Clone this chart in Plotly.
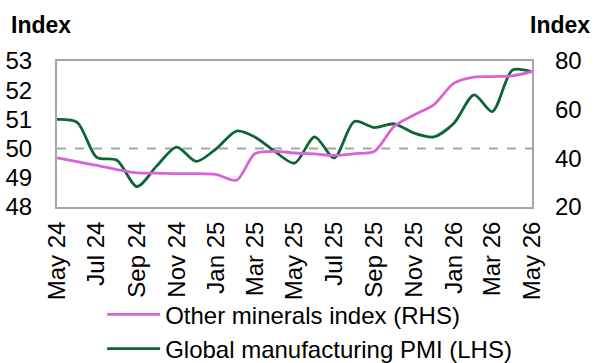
import plotly.graph_objects as go

months = ["2024-05-01","2024-06-01","2024-07-01","2024-08-01","2024-09-01","2024-10-01","2024-11-01","2024-12-01",
          "2025-01-01","2025-02-01","2025-03-01","2025-04-01","2025-05-01","2025-06-01","2025-07-01","2025-08-01",
          "2025-09-01","2025-10-01","2025-11-01","2025-12-01","2026-01-01","2026-02-01","2026-03-01","2026-04-01","2026-05-01"]
pmi = [51.0, 50.9, 49.7, 49.6, 48.7, 49.4, 50.05, 49.56, 50.0, 50.6, 50.4, 49.9, 49.5,
       50.4, 49.68, 50.93, 50.72, 50.85, 50.53, 50.4, 50.87, 51.84, 51.27, 52.69, 52.63]
minerals = [40.2, 38.6, 37.1, 35.4, 34.0, 33.9, 33.7, 33.7, 33.3, 31.0, 41.9, 42.9, 42.2,
            41.8, 41.2, 41.9, 42.9, 53.1, 57.9, 62.0, 70.9, 73.4, 73.6, 73.9, 75.7]
tick_vals = ["2024-05-01","2024-07-01","2024-09-01","2024-11-01","2025-01-01","2025-03-01","2025-05-01",
             "2025-07-01","2025-09-01","2025-11-01","2026-01-01","2026-03-01","2026-05-01"]
tick_text = ["May 24","Jul 24","Sep 24","Nov 24","Jan 25","Mar 25","May 25","Jul 25","Sep 25","Nov 25","Jan 26","Mar 26","May 26"]

font = "Liberation Sans, Arial, sans-serif"
FS = 24
fig = go.Figure()
fig.add_trace(go.Scatter(x=months, y=minerals, yaxis="y2", mode="lines", name="Other minerals index (RHS)",
                         line=dict(color="#DA62D8", width=2.8, shape="spline", smoothing=0.8)))
fig.add_trace(go.Scatter(x=months, y=pmi, mode="lines", name="Global manufacturing PMI (LHS)",
                         line=dict(color="#0B6636", width=2.8, shape="spline", smoothing=0.8)))
fig.add_shape(type="line", xref="paper", x0=0, x1=1, yref="y", y0=50, y1=50,
              line=dict(color="#A6A6A6", width=2, dash="dash"), layer="below")
fig.update_layout(
    width=596, height=363, margin=dict(l=57, r=64, t=61, b=156, autoexpand=False),
    paper_bgcolor="white", plot_bgcolor="white",
    font=dict(family=font, size=FS, color="black"),
    showlegend=True,
    legend=dict(x=0.095, y=-0.584, xanchor="left", yanchor="top", orientation="v",
                font=dict(size=FS), itemwidth=53, tracegroupgap=0, bgcolor="rgba(0,0,0,0)"),
    xaxis=dict(range=["2024-05-01","2026-05-01"], tickvals=tick_vals, ticktext=tick_text, tickangle=-90,
               showgrid=False, showline=True, linecolor="#A6A6A6", linewidth=2, mirror=True, ticks="",
               tickfont=dict(size=FS), ticklabelstandoff=3),
    yaxis=dict(range=[48,53], dtick=1, showgrid=False, showline=True, linecolor="#A6A6A6", linewidth=2,
               mirror=True, ticks="", zeroline=False, tickfont=dict(size=FS), ticklabelstandoff=18),
    yaxis2=dict(range=[20,80], dtick=20, overlaying="y", side="right", showgrid=False, showline=False,
                ticks="", zeroline=False, tickfont=dict(size=FS), ticklabelstandoff=22),
    annotations=[
        dict(text="<b>Index</b>", xref="paper", yref="paper", x=-0.101, y=1.246, xanchor="left", yanchor="middle",
             showarrow=False, font=dict(size=23)),
        dict(text="<b>Index</b>", xref="paper", yref="paper", x=1.126, y=1.246, xanchor="right", yanchor="middle",
             showarrow=False, font=dict(size=23)),
    ],
)
fig.write_html("out.html", config={"displayModeBar": False},
               post_script="document.body.style.margin='0';document.body.style.padding='0';")
